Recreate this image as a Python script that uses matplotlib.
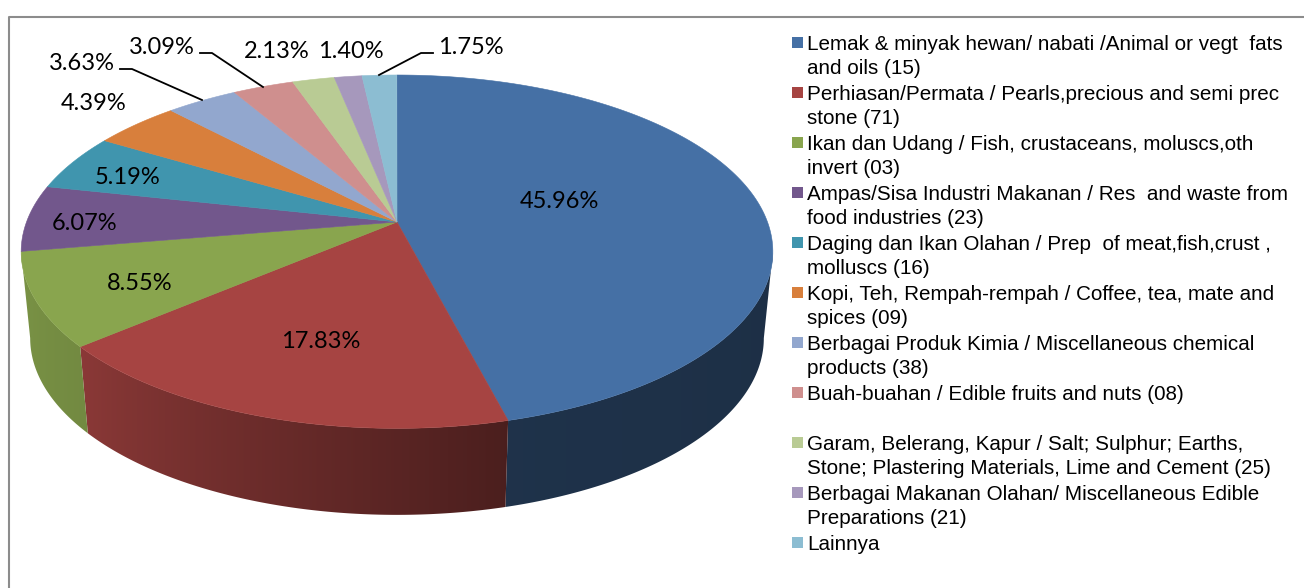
import numpy as np
import matplotlib
matplotlib.use("Agg")
import matplotlib.pyplot as plt
from matplotlib.patches import Polygon, Rectangle

# Share of each commodity group, in percent
shares = [45.96, 17.83, 8.55, 6.07, 5.19, 4.39, 3.63, 3.09, 2.13, 1.40, 1.75]
share_labels = ["45.96%", "17.83%", "8.55%", "6.07%", "5.19%", "4.39%",
                "3.63%", "3.09%", "2.13%", "1.40%", "1.75%"]
colors = ["#4570a5", "#a64442", "#89a54e", "#72578c", "#4095ae", "#d87f3c",
          "#92a7ce", "#cf8f8e", "#b9cb94", "#a698bc", "#8cbdd2"]

# Legend text, one list entry per group (empty last line keeps the gap)
legend_labels = [
    "Lemak & minyak hewan/ nabati /Animal or vegt  fats\nand oils (15)",
    "Perhiasan/Permata / Pearls,precious and semi prec\nstone (71)",
    "Ikan dan Udang / Fish, crustaceans, moluscs,oth\ninvert (03)",
    "Ampas/Sisa Industri Makanan / Res  and waste from\nfood industries (23)",
    "Daging dan Ikan Olahan / Prep  of meat,fish,crust ,\nmolluscs (16)",
    "Kopi, Teh, Rempah-rempah / Coffee, tea, mate and\nspices (09)",
    "Berbagai Produk Kimia / Miscellaneous chemical\nproducts (38)",
    "Buah-buahan / Edible fruits and nuts (08)\n",
    "Garam, Belerang, Kapur / Salt; Sulphur; Earths,\nStone; Plastering Materials, Lime and Cement (25)",
    "Berbagai Makanan Olahan/ Miscellaneous Edible\nPreparations (21)",
    "Lainnya",
]

# Where the value labels sit (centre of the text, in pixels)
label_x = [559, 321, 140, 85, 128, 94, 82, 162, 277, 351, 471]
label_y = [202, 342, 284, 223, 178, 104, 64, 48, 52, 52, 48]

# Leader lines for the labels outside the pie
leaders = [([120, 132, 202], [69, 69, 100]),
           ([200, 212, 263], [53, 53, 87]),
           ([433, 421, 379], [53, 53, 75])]

# Perspective of the pie disc
CX, CY = 397.0, 222.0
AX, BY = 370.5, 171.7
TILT = 0.168
DEPTH = 86.5
BOTTOM_SCALE = 0.976


# Angle is clockwise from 12 o'clock, in degrees. Returns pixel coordinates.
def TopEdge(theta):
    t = np.radians(theta)
    w = 1 + TILT*np.cos(t)
    return CX + AX*np.sin(t)/w, CY - BY*np.cos(t)/w


def BottomEdge(theta):
    x, y = TopEdge(theta)
    return CX + BOTTOM_SCALE*(x - CX), y + DEPTH


# The side wall gets darker towards the right hand side
def SideShade(theta):
    return np.interp(theta, [100, 165, 230, 260], [0.42, 0.45, 0.84, 0.90])


fig = plt.figure(figsize=(13.04, 5.88), dpi=100)
ax = fig.add_axes([0, 0, 1, 1])

# Chart frame, only top and left show in the crop
ax.plot([9, 9, 1304], [588, 17, 17], color="#8c8c8c", lw=1.5, zorder=1)

edges = np.concatenate([[0], np.cumsum(shares)])*3.6
tangent = np.degrees(np.arccos(-TILT))

# Side wall: a horizontal gradient clipped to the outline of each slice
for i in range(len(shares)):
    lo = max(edges[i], tangent)
    hi = min(edges[i+1], 360 - tangent)
    if hi <= lo:
        continue
    steps = np.linspace(lo, hi, 120)
    xt, yt = TopEdge(steps)
    xb, yb = BottomEdge(steps)
    outline = list(zip(xt, yt)) + list(zip(xb[::-1], yb[::-1]))
    wall = Polygon(outline, closed=True, fc="none", ec="none", transform=ax.transData)
    ax.add_patch(wall)

    x0, x1 = min(xt.min(), xb.min()) - 1, max(xt.max(), xb.max()) + 1
    xgrid = np.linspace(x0, x1, 400)
    order = np.argsort(xt)
    shade = np.interp(xgrid, xt[order], SideShade(steps)[order])
    rgb = np.array(matplotlib.colors.to_rgb(colors[i]))
    img = (shade[:, None]*rgb)[None, :, :]
    im = ax.imshow(img, extent=(x0, x1, yb.max() + 1, yt.min() - 1), aspect="auto",
                   interpolation="bilinear", zorder=2)
    im.set_clip_path(wall)

# Top of the pie
for i in range(len(shares)):
    steps = np.linspace(edges[i], edges[i+1], max(int(edges[i+1] - edges[i]), 2) + 1)
    xs, ys = TopEdge(steps)
    pts = [(CX, CY)] + list(zip(xs, ys))
    ax.add_patch(Polygon(pts, closed=True, fc=colors[i], ec=colors[i], lw=0.4, zorder=3))

# Value labels
for txt, x, y in zip(share_labels, label_x, label_y):
    ax.text(x, y, txt, family="Lato", fontsize=17, color="black",
            ha="center", va="center", zorder=5)

for xs, ys in leaders:
    ax.plot(xs, ys, color="black", lw=1.3, zorder=4)

# Legend, drawn by hand since each line sits on a fixed 25 px row
row = 0
for lab, col in zip(legend_labels, colors):
    ax.add_patch(Rectangle((792, 36.5 + 25*row), 11, 11, fc=col, ec="none", zorder=4))
    for line in lab.split("\n"):
        ax.text(807, 49.5 + 25*row, line, family="Liberation Sans", fontsize=14.9,
                color="black", ha="left", va="baseline", zorder=5)
        row += 1

ax.set_xlim(0, 1304)
ax.set_ylim(588, 0)
ax.axis("off")

fig.savefig("out.png", dpi=100)
